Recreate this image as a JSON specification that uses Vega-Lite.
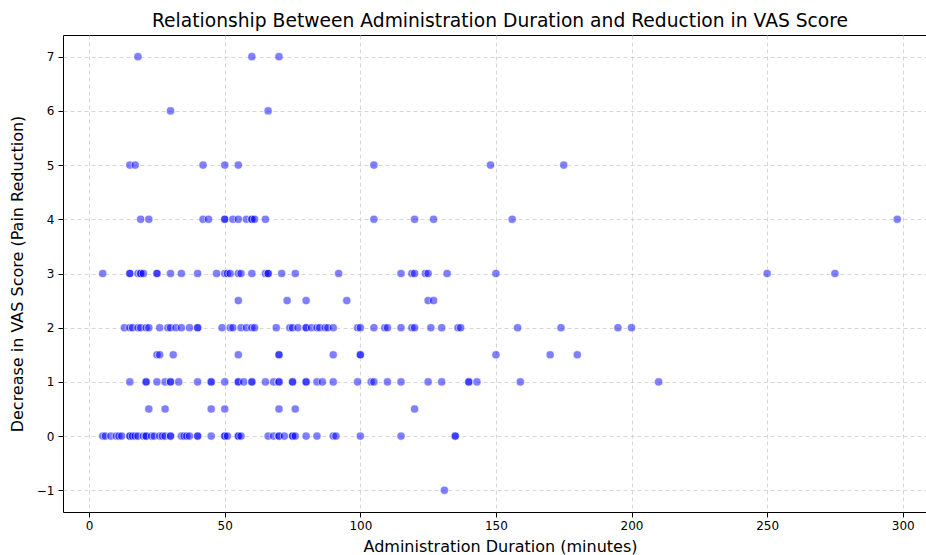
{
  "$schema": "https://vega.github.io/schema/vega-lite/v6.json",
  "autosize": {"type": "none"},
  "padding": {"left": 63, "top": 35, "right": -11, "bottom": 43},
  "width": 874,
  "height": 477,
  "background": "white",
  "title": {"text": "Relationship Between Administration Duration and Reduction in VAS Score", "font": "DejaVu Sans", "fontSize": 18.7, "fontWeight": "normal", "color": "black", "offset": 4},
  "config": {
    "view": {"stroke": "black", "strokeWidth": 1},
    "axis": {
      "labelFont": "DejaVu Sans", "labelFontSize": 12, "labelColor": "black",
      "titleFont": "DejaVu Sans", "titleFontSize": 16, "titleFontWeight": "normal", "titleColor": "black",
      "tickColor": "black", "tickSize": 5, "domain": false,
      "gridColor": "#cccccc", "gridDash": [4, 3], "gridWidth": 0.8
    }
  },
  "data": {"values": [
    {"d":18,"v":7},{"d":60,"v":7},{"d":70,"v":7},
    {"d":30,"v":6},{"d":66,"v":6},
    {"d":15,"v":5},{"d":17,"v":5},{"d":42,"v":5},{"d":50,"v":5},{"d":55,"v":5},{"d":105,"v":5},{"d":148,"v":5},{"d":175,"v":5},
    {"d":19,"v":4},{"d":22,"v":4},{"d":42,"v":4},{"d":44,"v":4},{"d":50,"v":4},{"d":50,"v":4},{"d":53,"v":4},{"d":55,"v":4},{"d":58,"v":4},{"d":60,"v":4},{"d":60,"v":4},{"d":61,"v":4},{"d":65,"v":4},{"d":105,"v":4},{"d":120,"v":4},{"d":127,"v":4},{"d":156,"v":4},{"d":298,"v":4},
    {"d":5,"v":3},{"d":15,"v":3},{"d":15,"v":3},{"d":18,"v":3},{"d":19,"v":3},{"d":19,"v":3},{"d":20,"v":3},{"d":25,"v":3},{"d":25,"v":3},{"d":30,"v":3},{"d":34,"v":3},{"d":40,"v":3},{"d":47,"v":3},{"d":50,"v":3},{"d":51,"v":3},{"d":52,"v":3},{"d":55,"v":3},{"d":56,"v":3},{"d":60,"v":3},{"d":65,"v":3},{"d":66,"v":3},{"d":66,"v":3},{"d":71,"v":3},{"d":76,"v":3},{"d":92,"v":3},{"d":115,"v":3},{"d":119,"v":3},{"d":120,"v":3},{"d":124,"v":3},{"d":125,"v":3},{"d":132,"v":3},{"d":150,"v":3},{"d":250,"v":3},{"d":275,"v":3},
    {"d":55,"v":2.5},{"d":73,"v":2.5},{"d":80,"v":2.5},{"d":95,"v":2.5},{"d":125,"v":2.5},{"d":127,"v":2.5},
    {"d":13,"v":2},{"d":15,"v":2},{"d":16,"v":2},{"d":18,"v":2},{"d":19,"v":2},{"d":21,"v":2},{"d":22,"v":2},{"d":26,"v":2},{"d":29,"v":2},{"d":30,"v":2},{"d":32,"v":2},{"d":34,"v":2},{"d":37,"v":2},{"d":40,"v":2},{"d":40,"v":2},{"d":49,"v":2},{"d":52,"v":2},{"d":53,"v":2},{"d":56,"v":2},{"d":58,"v":2},{"d":60,"v":2},{"d":61,"v":2},{"d":69,"v":2},{"d":74,"v":2},{"d":75,"v":2},{"d":77,"v":2},{"d":80,"v":2},{"d":80,"v":2},{"d":82,"v":2},{"d":84,"v":2},{"d":85,"v":2},{"d":87,"v":2},{"d":88,"v":2},{"d":90,"v":2},{"d":99,"v":2},{"d":100,"v":2},{"d":105,"v":2},{"d":109,"v":2},{"d":110,"v":2},{"d":115,"v":2},{"d":119,"v":2},{"d":120,"v":2},{"d":126,"v":2},{"d":130,"v":2},{"d":136,"v":2},{"d":137,"v":2},{"d":158,"v":2},{"d":174,"v":2},{"d":195,"v":2},{"d":200,"v":2},
    {"d":25,"v":1.5},{"d":26,"v":1.5},{"d":31,"v":1.5},{"d":55,"v":1.5},{"d":70,"v":1.5},{"d":70,"v":1.5},{"d":90,"v":1.5},{"d":100,"v":1.5},{"d":100,"v":1.5},{"d":150,"v":1.5},{"d":170,"v":1.5},{"d":180,"v":1.5},
    {"d":15,"v":1},{"d":21,"v":1},{"d":21,"v":1},{"d":25,"v":1},{"d":28,"v":1},{"d":30,"v":1},{"d":30,"v":1},{"d":33,"v":1},{"d":40,"v":1},{"d":45,"v":1},{"d":45,"v":1},{"d":50,"v":1},{"d":55,"v":1},{"d":55,"v":1},{"d":57,"v":1},{"d":60,"v":1},{"d":60,"v":1},{"d":65,"v":1},{"d":68,"v":1},{"d":70,"v":1},{"d":70,"v":1},{"d":75,"v":1},{"d":75,"v":1},{"d":80,"v":1},{"d":80,"v":1},{"d":84,"v":1},{"d":86,"v":1},{"d":90,"v":1},{"d":99,"v":1},{"d":104,"v":1},{"d":105,"v":1},{"d":110,"v":1},{"d":115,"v":1},{"d":125,"v":1},{"d":130,"v":1},{"d":140,"v":1},{"d":140,"v":1},{"d":143,"v":1},{"d":159,"v":1},{"d":210,"v":1},
    {"d":22,"v":0.5},{"d":28,"v":0.5},{"d":45,"v":0.5},{"d":50,"v":0.5},{"d":70,"v":0.5},{"d":76,"v":0.5},{"d":120,"v":0.5},
    {"d":5,"v":0},{"d":6,"v":0},{"d":8,"v":0},{"d":10,"v":0},{"d":11,"v":0},{"d":12,"v":0},{"d":15,"v":0},{"d":15,"v":0},{"d":16,"v":0},{"d":17,"v":0},{"d":18,"v":0},{"d":20,"v":0},{"d":21,"v":0},{"d":21,"v":0},{"d":23,"v":0},{"d":24,"v":0},{"d":26,"v":0},{"d":27,"v":0},{"d":28,"v":0},{"d":30,"v":0},{"d":30,"v":0},{"d":34,"v":0},{"d":35,"v":0},{"d":36,"v":0},{"d":37,"v":0},{"d":40,"v":0},{"d":40,"v":0},{"d":45,"v":0},{"d":50,"v":0},{"d":50,"v":0},{"d":51,"v":0},{"d":55,"v":0},{"d":55,"v":0},{"d":56,"v":0},{"d":66,"v":0},{"d":68,"v":0},{"d":70,"v":0},{"d":70,"v":0},{"d":72,"v":0},{"d":75,"v":0},{"d":75,"v":0},{"d":76,"v":0},{"d":80,"v":0},{"d":84,"v":0},{"d":90,"v":0},{"d":91,"v":0},{"d":100,"v":0},{"d":115,"v":0},{"d":135,"v":0},{"d":135,"v":0},
    {"d":131,"v":-1}
  ]},
  "mark": {"type": "point", "filled": true, "shape": "circle", "size": 66, "color": "blue", "fillOpacity": 0.5, "stroke": "white", "strokeWidth": 0.6, "strokeOpacity": 0.9},
  "encoding": {
    "x": {"field": "d", "type": "quantitative", "title": "Administration Duration (minutes)",
      "scale": {"domain": [-9.65, 312.65], "nice": false, "zero": false},
      "axis": {"values": [0, 50, 100, 150, 200, 250, 300], "labelPadding": 3, "titlePadding": 7}},
    "y": {"field": "v", "type": "quantitative", "title": "Decrease in VAS Score (Pain Reduction)",
      "scale": {"domain": [-1.4, 7.4], "nice": false, "zero": false},
      "axis": {"values": [-1, 0, 1, 2, 3, 4, 5, 6, 7], "labelPadding": 4, "titlePadding": 11}}
  }
}
